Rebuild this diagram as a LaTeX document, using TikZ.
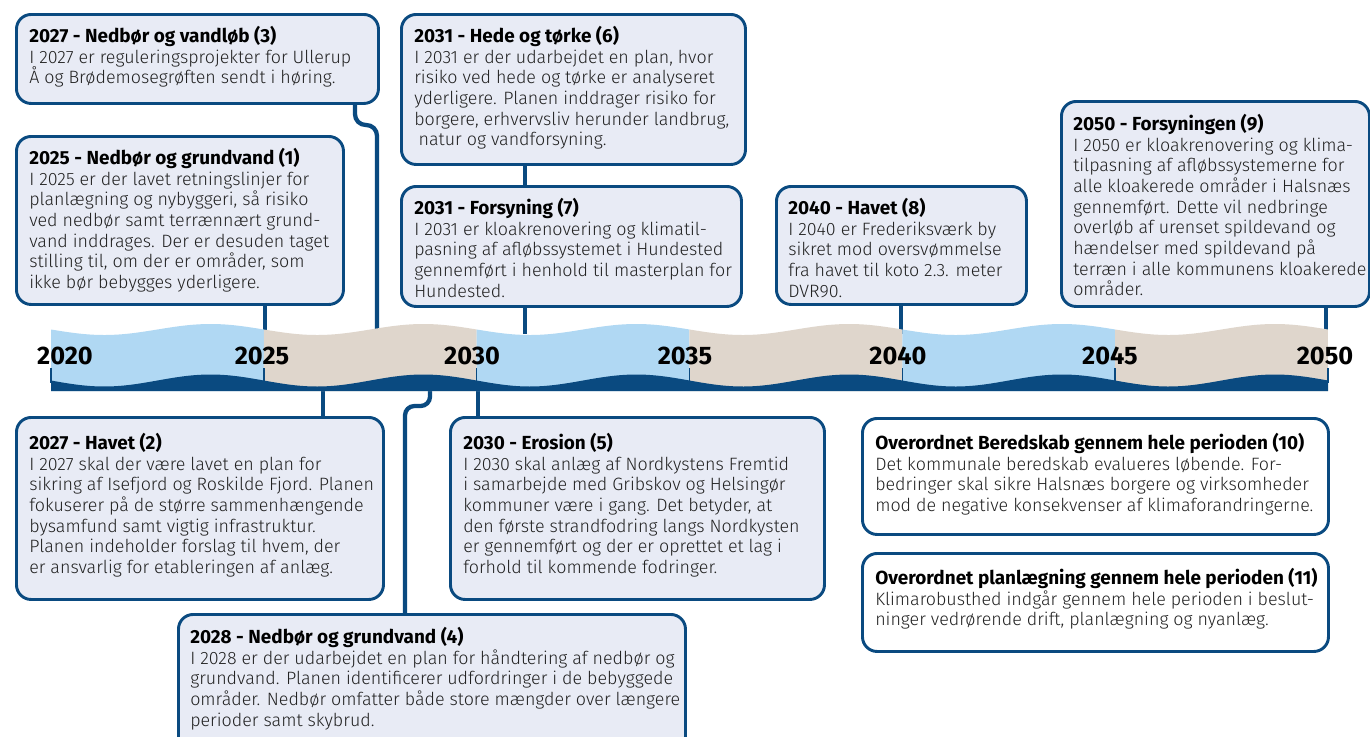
\documentclass[tikz,border=0pt]{standalone}
\usepackage{fontspec}
\setmainfont{Fira Sans}[UprightFont=* Light, BoldFont=* Bold]
\usetikzlibrary{calc}
\definecolor{navy}{HTML}{0A4A80}
\definecolor{boxfill}{HTML}{E8EBF5}
\definecolor{bandblue}{HTML}{B0D8F3}
\definecolor{bandbeige}{HTML}{DFD6CC}
\definecolor{txtgray}{HTML}{222222}
\newcommand\ttl[1]{{\fontsize{14.2}{15.5}\selectfont\bfseries\color{black}#1}\\}
\tikzset{
  box/.style={draw=navy, line width=2.2pt, fill=boxfill, rounded corners=11pt, inner sep=0pt, anchor=north west},
  wbox/.style={box, fill=white},
  txt/.style={anchor=north west, inner sep=0pt, align=left, text=txtgray, font=\fontsize{13.4}{15.5}\selectfont},
  conn/.style={draw=navy, line width=3.2pt},
  yr/.style={inner sep=0pt, text=black, font=\fontsize{19}{19}\selectfont\bfseries},
  tick/.style={draw=navy, line width=1pt}
}
\newcommand\bx[6][box]{\node[#1, minimum width={(#5-#3)*0.75pt}, minimum height={(#6-#4)*0.75pt}] (#2) at (#3,#4) {};}
\begin{document}
\begin{tikzpicture}[x=0.75pt, y=-0.75pt]
\clip (0,0) rectangle (1370,736);
\fill[white] (0,0) rectangle (1370,736);
% coordinates on the band
\coordinate (c1) at (265,334);
\coordinate (c3) at (377,334);
\coordinate (j3) at (355,125);
\coordinate (k3) at (377,125);
\coordinate (c7) at (525,334);
\coordinate (c8) at (901,334);
\coordinate (c9) at (1326,334);
\coordinate (c2) at (323,386);
\coordinate (c4) at (430,386);
\coordinate (j4) at (430,406);
\coordinate (k4) at (405,406);
\coordinate (c5) at (478,386);
% boxes
\bx{b3}{15}{13}{377}{102}
\bx{b1}{15}{135}{342}{303}
\bx{b6}{400}{13}{744}{163}
\bx{b7}{400}{185}{740}{305}
\bx{b8}{775}{185}{1025}{303}
\bx{b9}{1060}{100}{1368}{305}
\bx{b2}{15}{416}{382}{598}
\bx{b5}{449}{416}{823}{598}
\bx{b4}{177}{613}{684}{750}
\bx[wbox]{b10}{861}{417}{1327}{533}
\bx[wbox]{b11}{861}{552}{1327}{650}
% connectors
\draw[conn] (b1.south -| c1) -- (c1);
\draw[conn, rounded corners=8pt] (b3.south -| j3) -- (j3) -- (k3) -- (c3);
\draw[conn] (b6.south -| c7) -- (b7.north -| c7);
\draw[conn] (b7.south -| c7) -- (c7);
\draw[conn] (b8.south -| c8) -- (c8);
\draw[conn] (b9.south -| c9) -- (c9);
\draw[conn] (c2) -- (b2.north -| c2);
\draw[conn, rounded corners=7pt] (c4) -- (j4) -- (k4) -- (b4.north -| k4);
\draw[conn] (c5) -- (b5.north -| c5);
% band
\foreach \i/\c in {0/bandblue,1/bandbeige,2/bandblue,3/bandbeige,4/bandblue,5/bandbeige}{
  \pgfmathsetmacro\xa{51+\i*212.83}
  \pgfmathsetmacro\xb{\xa+212.83}
  \fill[\c] plot[domain=\xa:\xb, samples=40, smooth] (\x,{329.5+5.5*sin(1.6915*(\x-\xa))}) -- (\xb,391) -- (\xa,391) -- cycle;
}
\fill[navy] plot[domain=51:1328, samples=200, smooth] (\x,{380.5+6*sin(1.6915*(\x-51))}) -- (1328,391) -- (51,391) -- cycle;
\foreach \i in {0,...,6}{
  \pgfmathsetmacro\xt{51+\i*212.83}
  \draw[tick] (\xt,368) -- (\xt,383);
}
% year labels
\node[yr] (y2020) at (65,356) {2020};
\node[yr] (y2025) at (262,356) {2025};
\node[yr] (y2030) at (472,356) {2030};
\node[yr] (y2035) at (685,356) {2035};
\node[yr] (y2040) at (898,356) {2040};
\node[yr] (y2045) at (1110,356) {2045};
\node[yr] (y2050) at (1325,356) {2050};
% texts
\node[txt] (t3) at (29,26) {\ttl{2027 - Nedbør og vandløb (3)}I 2027 er reguleringsprojekter for Ullerup\\Å og Brødemosegrøften sendt i høring.};
\node[txt] (t1) at (29,148) {\ttl{2025 - Nedbør og grundvand (1)}I 2025 er der lavet retningslinjer for\\planlægning og nybyggeri, så risiko\\ved nedbør samt terrænnært grund-\\vand inddrages. Der er desuden taget\\stilling til, om der er områder, som\\ikke bør bebygges yderligere.};
\node[txt] (t6) at (414,26) {\ttl{2031 - Hede og tørke (6)}I 2031 er der udarbejdet en plan, hvor\\risiko ved hede og tørke er analyseret\\yderligere. Planen inddrager risiko for\\borgere, erhvervsliv herunder landbrug,\\\hspace{0.25em}natur og vandforsyning.};
\node[txt] (t7) at (414,198) {\ttl{2031 - Forsyning (7)}I 2031 er kloakrenovering og klimatil-\\pasning af afløbssystemet i Hundested\\gennemført i henhold til masterplan for\\Hundested.};
\node[txt] (t8) at (788,198) {\ttl{2040 - Havet (8)}I 2040 er Frederiksværk by\\sikret mod oversvømmelse\\fra havet til koto 2.3. meter\\DVR90.};
\node[txt] (t9) at (1073,114) {\ttl{2050 - Forsyningen (9)}I 2050 er kloakrenovering og klima-\\tilpasning af afløbssystemerne for\\alle kloakerede områder i Halsnæs\\gennemført. Dette vil nedbringe\\overløb af urenset spildevand og\\hændelser med spildevand på\\terræn i alle kommunens kloakerede\\områder.};
\node[txt] (t2) at (29,433) {\ttl{2027 - Havet (2)}I 2027 skal der være lavet en plan for\\sikring af Isefjord og Roskilde Fjord. Planen\\fokuserer på de større sammenhængende\\bysamfund samt vigtig infrastruktur.\\Planen indeholder forslag til hvem, der\\er ansvarlig for etableringen af anlæg.};
\node[txt] (t5) at (463,433) {\ttl{2030 - Erosion (5)}I 2030 skal anlæg af Nordkystens Fremtid\\i samarbejde med Gribskov og Helsingør\\kommuner være i gang. Det betyder, at\\den første strandfodring langs Nordkysten\\er gennemført og der er oprettet et lag i\\forhold til kommende fodringer.};
\node[txt] (t4) at (190,627) {\ttl{2028 - Nedbør og grundvand (4)}I 2028 er der udarbejdet en plan for håndtering af nedbør og\\grundvand. Planen identificerer udfordringer i de bebyggede\\områder. Nedbør omfatter både store mængder over længere\\perioder samt skybrud.};
\node[txt] (t10) at (875,433) {\ttl{Overordnet Beredskab gennem hele perioden (10)}Det kommunale beredskab evalueres løbende. For-\\bedringer skal sikre Halsnæs borgere og virksomheder\\mod de negative konsekvenser af klimaforandringerne.};
\node[txt] (t11) at (875,568) {\ttl{Overordnet planlægning gennem hele perioden (11)}Klimarobusthed indgår gennem hele perioden i beslut-\\ninger vedrørende drift, planlægning og nyanlæg.};
\end{tikzpicture}
\end{document}
